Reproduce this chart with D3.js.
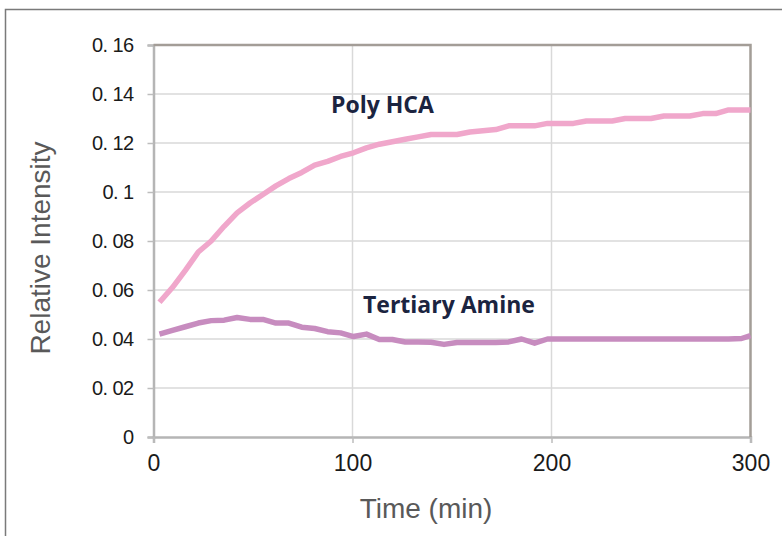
<!DOCTYPE html>
<html>
<head>
<meta charset="utf-8">
<script src="https://cdn.jsdelivr.net/npm/d3@7"></script>
<style>
  body { margin: 0; background: #fff; }
  svg { display: block; }
</style>
</head>
<body>
<script>
// data
var times = [3, 9.5, 16, 22.5, 29, 35.5, 42, 48.5, 55, 61.5, 68, 74.5, 81, 87.5, 94,
  100.5, 107, 113.5, 120, 126.5, 133, 139.5, 146, 152.5, 159, 165.5, 172, 178.5,
  185, 191.5, 198, 204.5, 211, 217.5, 224, 230.5, 237, 243.5, 250, 256.5, 263,
  269.5, 276, 282.5, 289, 295.5, 300];

var polyHCA = [0.055, 0.061, 0.068, 0.0755, 0.080, 0.086, 0.0915, 0.0955, 0.099,
  0.1025, 0.1055, 0.108, 0.111, 0.1125, 0.1145, 0.116, 0.118, 0.1195, 0.1205,
  0.1215, 0.1225, 0.1235, 0.1235, 0.1235, 0.1245, 0.125, 0.1255, 0.127, 0.127,
  0.127, 0.128, 0.128, 0.128, 0.129, 0.129, 0.129, 0.130, 0.130, 0.130, 0.131,
  0.131, 0.131, 0.132, 0.132, 0.1335, 0.1335, 0.1335];

var tertiaryAmine = [0.042, 0.0435, 0.045, 0.0465, 0.0475, 0.0477, 0.0488, 0.048,
  0.048, 0.0465, 0.0465, 0.0448, 0.0443, 0.043, 0.0425, 0.041, 0.042, 0.0398,
  0.0398, 0.0388, 0.0388, 0.0387, 0.0378, 0.0386, 0.0386, 0.0386, 0.0386, 0.0388,
  0.040, 0.0383, 0.040, 0.040, 0.040, 0.040, 0.040, 0.040, 0.040, 0.040, 0.040,
  0.040, 0.040, 0.040, 0.040, 0.040, 0.040, 0.0402, 0.0414];

var xTicks = [0, 100, 200, 300];
var yTicks = [0, 0.02, 0.04, 0.06, 0.08, 0.1, 0.12, 0.14, 0.16];

var width = 782;
var height = 536;

var svg = d3.select("body").append("svg")
    .attr("width", width)
    .attr("height", height);

// outer frame
svg.append("path")
    .attr("d", "M5.5," + height + "V9.5H" + width)
    .attr("fill", "none")
    .attr("stroke", "#7a7a7a")
    .attr("stroke-width", 1.5);

var x = d3.scaleLinear().domain([0, 300]).range([153.5, 750.5]);
var y = d3.scaleLinear().domain([0, 0.16]).range([437, 45]);

// gridlines
svg.append("g")
    .selectAll("line")
    .data(yTicks.slice(1))
    .enter().append("line")
    .attr("x1", x(0)).attr("x2", x(300))
    .attr("y1", function(d) { return y(d); })
    .attr("y2", function(d) { return y(d); })
    .attr("stroke", "#d9d9d9")
    .attr("stroke-width", 1.5);

svg.append("g")
    .selectAll("line")
    .data([100, 200])
    .enter().append("line")
    .attr("y1", y(0)).attr("y2", y(0.16))
    .attr("x1", function(d) { return x(d); })
    .attr("x2", function(d) { return x(d); })
    .attr("stroke", "#d9d9d9")
    .attr("stroke-width", 1.5);

// axes
var yAxis = svg.append("g")
    .attr("transform", "translate(" + x(0) + ",0)")
    .call(d3.axisLeft(y).tickValues(yTicks).tickSize(6).tickPadding(14)
      .tickFormat(function(d) { return d === 0 ? "0" : String(+d.toFixed(2)).replace(".", ". "); }));

var xAxis = svg.append("g")
    .attr("transform", "translate(0," + y(0) + ")")
    .call(d3.axisBottom(x).tickValues(xTicks).tickSize(6).tickPadding(12));

[yAxis, xAxis].forEach(function(a) {
  a.select(".domain").attr("stroke", "#b5b5b5").attr("stroke-width", 2.5);
  a.selectAll(".tick line").attr("stroke", "#bdbdbd").attr("stroke-width", 1.5);
  a.selectAll("text")
    .attr("fill", "#1a1a1a")
    .style("font-family", "'Liberation Sans', Arial, sans-serif");
});
yAxis.selectAll("text").style("font-size", "20px").style("letter-spacing", "-0.6px");
xAxis.selectAll("text").style("font-size", "23px");

// top and right border of the plot
svg.append("path")
    .attr("d", "M" + x(0) + "," + y(0.16) + "H" + x(300) + "V" + y(0))
    .attr("fill", "none")
    .attr("stroke", "#a39d97")
    .attr("stroke-width", 2.5);

// lines
var line = d3.line()
    .x(function(d, i) { return x(times[i]); })
    .y(function(d) { return y(d); });

svg.append("path")
    .datum(tertiaryAmine)
    .attr("d", line)
    .attr("fill", "none")
    .attr("stroke", "#c78cbf")
    .attr("stroke-width", 5.5)
    .attr("stroke-linejoin", "round");

svg.append("path")
    .datum(polyHCA)
    .attr("d", line)
    .attr("fill", "none")
    .attr("stroke", "#f0a7cb")
    .attr("stroke-width", 5.5)
    .attr("stroke-linejoin", "round");

// series labels
svg.append("text")
    .attr("x", 331).attr("y", 113)
    .text("Poly HCA")
    .attr("fill", "#1b2440")
    .style("font-family", "'Open Sans', Lato, sans-serif")
    .style("font-weight", "bold")
    .style("font-size", "23px");

svg.append("text")
    .attr("x", 363).attr("y", 313)
    .text("Tertiary Amine")
    .attr("fill", "#1b2440")
    .style("font-family", "'Open Sans', Lato, sans-serif")
    .style("font-weight", "bold")
    .style("font-size", "23px");

// axis titles
svg.append("text")
    .attr("x", 426).attr("y", 518)
    .attr("text-anchor", "middle")
    .text("Time (min)")
    .attr("fill", "#595959")
    .style("font-family", "'Liberation Sans', Arial, sans-serif")
    .style("font-size", "28px");

svg.append("text")
    .attr("transform", "translate(50,248) rotate(-90)")
    .attr("text-anchor", "middle")
    .text("Relative Intensity")
    .attr("fill", "#595959")
    .style("font-family", "'Liberation Sans', Arial, sans-serif")
    .style("font-size", "28px");
</script>
</body>
</html>
